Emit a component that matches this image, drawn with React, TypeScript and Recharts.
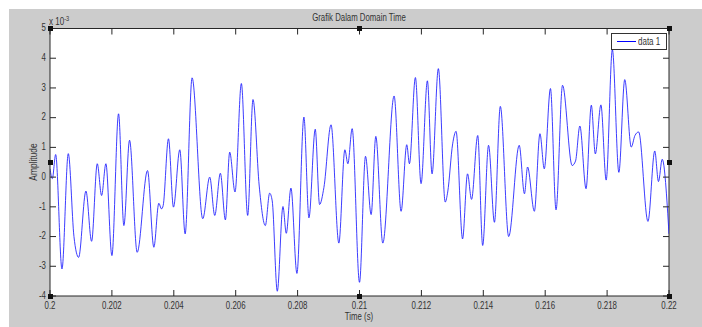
import { LineChart, Line, XAxis, YAxis, ReferenceLine, Legend } from "recharts";

// time (s) and amplitude (x 10^-3)
const time = [
  0.2, 0.200075, 0.200183, 0.200387, 0.200591, 0.200774, 0.200925, 0.201161, 0.201344, 0.201527,
  0.201667, 0.201806, 0.202, 0.202215, 0.202387, 0.20257, 0.202817, 0.203151, 0.203355, 0.203516,
  0.203602, 0.203656, 0.203828, 0.203989, 0.204194, 0.204366, 0.204591, 0.204935, 0.205161, 0.205323,
  0.205505, 0.205667, 0.205806, 0.205978, 0.206183, 0.206387, 0.206559, 0.20676, 0.206957, 0.207097,
  0.20718, 0.207344, 0.207527, 0.207634, 0.207785, 0.207978, 0.208204, 0.208366, 0.20857, 0.20871,
  0.20885, 0.20908, 0.209333, 0.209527, 0.209624, 0.209763, 0.21, 0.210194, 0.210376, 0.210527,
  0.210753, 0.211118, 0.211344, 0.211527, 0.211613, 0.211806, 0.211989, 0.212194, 0.212344, 0.212548,
  0.21277, 0.21285, 0.21301, 0.21312, 0.21333, 0.21349, 0.21362, 0.21382, 0.21398, 0.21417,
  0.21436, 0.21455, 0.21482, 0.21516, 0.21533, 0.21543, 0.21565, 0.21583, 0.21597, 0.21617,
  0.21635, 0.21656, 0.21687, 0.21698, 0.21712, 0.21732, 0.21749, 0.21762, 0.2178, 0.21797,
  0.21817, 0.21838, 0.21857, 0.21878, 0.2189, 0.21902, 0.21932, 0.21954, 0.21966, 0.21978,
  0.22,
];

const amplitude = [
  0.28, -0.05, 0.76, -3.09, 0.79, -2.0, -2.7, -0.47, -2.16, 0.45,
  -0.62, 0.45, -2.64, 2.13, -1.63, 1.24, -2.53, 0.22, -2.36, -0.88,
  -1.07, -0.96, 1.29, -1.01, 0.92, -1.91, 3.34, -1.4, 0.0, -1.29,
  0.13, -1.44, 0.84, -0.5, 3.15, -1.29, 2.61, -0.3, -1.63, -0.54,
  -0.8, -3.84, -0.99, -1.89, -0.37, -3.24, 2.02, -1.37, 1.61, -0.92,
  -0.35, 1.76, -2.22, 0.92, 0.45, 1.63, -3.54, 0.7, -1.26, 1.37,
  -2.22, 2.73, -1.15, 1.09, 0.45, 3.35, -0.22, 3.24, 0.11, 3.65,
  -0.84, -0.5, 1.12, 1.54, -2.08, 0.11, -0.75, 1.4, -2.3, 1.07,
  -1.52, 2.38, -2.0, 1.07, -0.56, 0.34, -1.15, 1.46, 0.28, 2.98,
  -1.1, 3.09, 0.39, 0.54, 1.72, -0.39, 2.42, 0.78, 2.43, -0.1,
  4.29, 0.16, 3.28, 1.01, 1.4, 1.52, -1.49, 0.88, -0.15, 0.6,
  -1.91,
];

const xTicks = [0.2, 0.202, 0.204, 0.206, 0.208, 0.21, 0.212, 0.214, 0.216, 0.218, 0.22];
const yTicks = [-4, -3, -2, -1, 0, 1, 2, 3, 4, 5];

const data = time.map((t, i) => ({ t, v: amplitude[i] }));

const W = 693;
const H = 318;
// plot box inside the chart
const LEFT = 41;
const RIGHT = 660;
const TOP = 19.5;
const BOTTOM = 287;

const AXIS = "#262626";
const TEXT = "#333";
const FONT = '"Liberation Sans", Arial, sans-serif';

const fmtX = (v: number) => String(parseFloat(v.toFixed(3)));

const XTick = (props: any) => {
  const { x, y, payload } = props;
  return (
    <g>
      <line x1={x} y1={BOTTOM} x2={x} y2={BOTTOM - 6} stroke={AXIS} />
      <line x1={x} y1={TOP} x2={x} y2={TOP + 6} stroke={AXIS} />
      <text
        transform={`translate(${x},${y + 10}) scale(0.75,1)`}
        textAnchor="middle"
        dominantBaseline="middle"
        fontSize={10.5}
        fontFamily={FONT}
        fill={TEXT}
      >
        {fmtX(payload.value)}
      </text>
    </g>
  );
};

const YTick = (props: any) => {
  const { x, y, payload } = props;
  return (
    <g>
      <line x1={LEFT} y1={y} x2={LEFT + 6} y2={y} stroke={AXIS} />
      <line x1={RIGHT} y1={y} x2={RIGHT - 6} y2={y} stroke={AXIS} />
      <text
        transform={`translate(${x - 4},${y}) scale(0.75,1)`}
        textAnchor="end"
        dominantBaseline="middle"
        fontSize={10.5}
        fontFamily={FONT}
        fill={TEXT}
      >
        {payload.value}
      </text>
    </g>
  );
};

const LegendBox = () => (
  <div
    style={{
      width: 54,
      height: 15,
      background: "#fff",
      border: "1px solid #333",
      display: "flex",
      alignItems: "center",
      fontFamily: FONT,
      fontSize: 10,
      color: TEXT,
    }}
  >
    <div style={{ marginLeft: 5, width: 24, height: 1, background: "#0000ff" }} />
    <span style={{ marginLeft: 2, display: "inline-block", transform: "scaleX(0.8)", transformOrigin: "left center", whiteSpace: "nowrap" }}>
      data 1
    </span>
  </div>
);

const handles = [
  [LEFT, TOP], [(LEFT + RIGHT) / 2, TOP], [RIGHT, TOP],
  [LEFT, (TOP + BOTTOM) / 2], [RIGHT, (TOP + BOTTOM) / 2],
  [LEFT, BOTTOM], [(LEFT + RIGHT) / 2, BOTTOM], [RIGHT, BOTTOM],
];

const label = (extra: any) => ({
  position: "absolute" as const,
  fontFamily: FONT,
  fontSize: 10,
  color: TEXT,
  whiteSpace: "nowrap" as const,
  ...extra,
});

export default function App() {
  return (
    <div style={{ position: "absolute", left: 9, top: 9, width: W, height: H, background: "#cccccc" }}>
      <div style={{ position: "absolute", left: 0, top: 0 }}>
        <LineChart width={W} height={H} data={data} margin={{ top: TOP, right: W - RIGHT, bottom: 0, left: 0 }}>
          <rect x={LEFT} y={TOP} width={RIGHT - LEFT} height={BOTTOM - TOP} fill="#fff" />
          <XAxis
            dataKey="t"
            type="number"
            domain={[0.2, 0.22]}
            ticks={xTicks}
            interval={0}
            allowDataOverflow
            height={H - BOTTOM}
            tickSize={0}
            tickMargin={0}
            tickLine={false}
            axisLine={{ stroke: AXIS }}
            tick={<XTick />}
          />
          <YAxis
            type="number"
            domain={[-4, 5]}
            ticks={yTicks}
            interval={0}
            allowDataOverflow
            width={LEFT}
            tickSize={0}
            tickMargin={0}
            tickLine={false}
            axisLine={{ stroke: AXIS }}
            tick={<YTick />}
          />
          <ReferenceLine y={5} stroke={AXIS} />
          <ReferenceLine x={0.22} stroke={AXIS} />
          <Legend
            layout="horizontal"
            verticalAlign="middle"
            align="center"
            content={<LegendBox />}
            wrapperStyle={{ top: 24, left: 602, width: "auto", height: "auto" }}
          />
          <Line
            type="monotone"
            dataKey="v"
            name="data 1"
            stroke="#1a1aff"
            strokeWidth={0.85}
            dot={false}
            isAnimationActive={false}
          />
        </LineChart>
      </div>
      <div style={label({ left: 350, top: 8, transform: "translate(-50%,-50%) scaleX(0.78)" })}>Grafik Dalam Domain Time</div>
      <div style={label({ left: 350, top: 307, transform: "translate(-50%,-50%) scaleX(0.78)" })}>Time (s)</div>
      <div style={label({ left: 24, top: 153, fontSize: 10.5, transform: "translate(-50%,-50%) rotate(-90deg) scaleX(0.8)" })}>Amplitude</div>
      <div style={label({ left: 40, top: 6, fontSize: 10, transform: "scaleX(0.8)", transformOrigin: "left top" })}>
        x 10<sup style={{ fontSize: 7, verticalAlign: 4 }}>-3</sup>
      </div>
      {handles.map(([hx, hy], i) => (
        <div
          key={i}
          style={{ position: "absolute", left: hx - 2.5, top: hy - 2.5, width: 5, height: 5, background: "#111" }}
        />
      ))}
    </div>
  );
}
